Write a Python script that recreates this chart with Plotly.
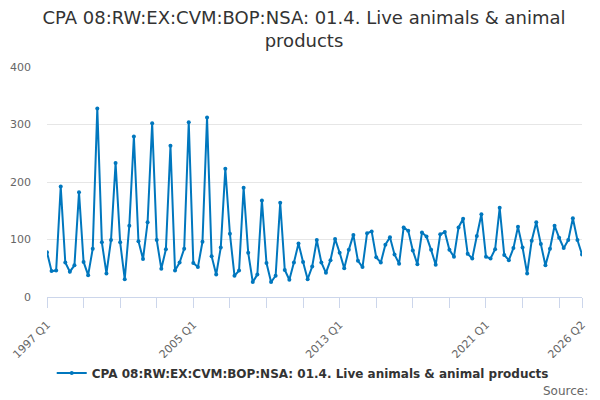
import plotly.graph_objects as go

# quarterly series, 1997 Q1 .. 2026 Q2
years = list(range(1997, 2027))
quarters = [f"{y} Q{q}" for y in years for q in range(1, 5)][:118]

values = [
    78, 45, 46, 192, 60, 44, 55, 182, 61, 38, 84, 328,
    95, 41, 99, 233, 95, 31, 124, 279, 97, 66, 130, 302,
    99, 49, 83, 263, 46, 60, 84, 304, 59, 52, 96, 312,
    71, 39, 86, 223, 110, 37, 46, 190, 77, 26, 39, 168,
    59, 26, 37, 164, 47, 30, 60, 93, 61, 31, 53, 99,
    60, 42, 64, 101, 77, 50, 82, 108, 63, 52, 111, 114,
    69, 60, 91, 104, 74, 58, 121, 115, 81, 57, 112, 105,
    82, 56, 109, 113, 82, 70, 121, 136, 75, 67, 106, 144,
    70, 67, 83, 155, 73, 64, 85, 122, 86, 41, 98, 130,
    92, 55, 84, 124, 103, 85, 99, 137, 99, 74,
]

series_name = "CPA 08:RW:EX:CVM:BOP:NSA: 01.4. Live animals & animal products"
title_text = "CPA 08:RW:EX:CVM:BOP:NSA: 01.4. Live animals & animal<br>products"

# tick every 8 quarters, label every 32, plus the last quarter
tick_vals = quarters[::8] + [quarters[-1]]
label_set = set(quarters[::32] + [quarters[-1]])
tick_text = [q if q in label_set else "" for q in tick_vals]

fig = go.Figure()
fig.add_trace(go.Scatter(
    x=quarters, y=values, name=series_name, mode="lines+markers",
    line=dict(color="#0077be", width=2),
    marker=dict(size=4, color="#0077be"),
))

# page body has an 8px margin, so the figure is sized 592x392
fig.update_layout(
    width=592, height=392,
    margin=dict(l=39, r=18, t=59, b=103, autoexpand=False),
    paper_bgcolor="white", plot_bgcolor="white",
    font=dict(family="DejaVu Sans", color="#666666"),
    title=dict(text=title_text, x=0.5, xanchor="center", yref="container",
               y=0.96, yanchor="middle",
               font=dict(size=18, color="#333333")),
    showlegend=True,
    legend=dict(orientation="h", x=0.478, xanchor="center", yref="container", y=0.069,
                yanchor="middle", itemwidth=30,
                font=dict(size=12, color="#333333", weight="bold")),
    annotations=[dict(text="Source:", xref="paper", yref="paper", x=1.015, y=-0.408,
                      xanchor="right", yanchor="middle", showarrow=False,
                      font=dict(size=12, color="#666666"))],
)

fig.update_xaxes(
    type="category", range=[0, len(quarters) - 1], automargin=False,
    tickmode="array", tickvals=tick_vals, ticktext=tick_text,
    tickangle=-45, tickfont=dict(size=11, color="#666666"), ticklabelstandoff=6,
    ticks="outside", ticklen=10, tickcolor="#ccd6eb",
    showline=True, linecolor="#ccd6eb", linewidth=1,
    showgrid=False, zeroline=False,
)
fig.update_yaxes(
    range=[0, 400], tickvals=[0, 100, 200, 300, 400], automargin=False,
    tickfont=dict(size=11, color="#666666"), ticklabelstandoff=15,
    showgrid=True, gridcolor="#e6e6e6", gridwidth=1,
    zeroline=False, showline=False,
)

fig.write_html("out.html")
